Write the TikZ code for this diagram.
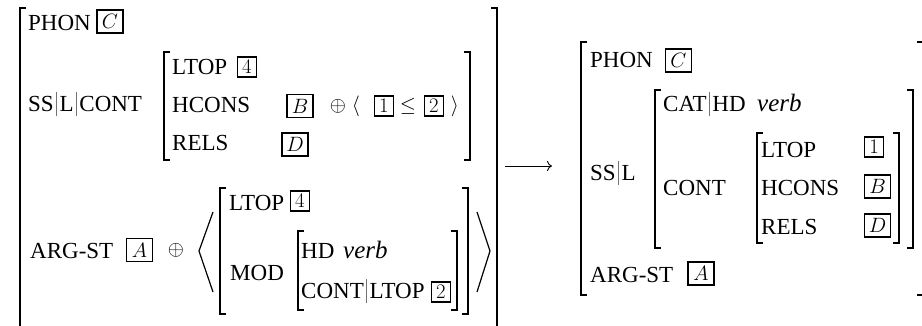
\documentclass[tikz,border=0pt]{standalone}
\usepackage[no-math]{fontspec}
\setmainfont{Liberation Serif}
\usetikzlibrary{arrows.meta}

\newcommand\avmfont{\fontsize{23}{27}\selectfont}
\newcommand\pth{\kern2.5pt{\color{black!55}\rule[-5pt]{0.8pt}{24pt}}\kern2.5pt}
% brackets: x, top, bottom
\newcommand\lbr[3]{\draw[brk] ({#1+6},#2) -- (#1,#2) -- (#1,#3) -- ({#1+6},#3);}
\newcommand\rbr[3]{\draw[brk] ({#1-6},#2) -- (#1,#2) -- (#1,#3) -- ({#1-6},#3);}

\tikzset{
  brk/.style={line width=1.5pt},
  feat/.style={anchor=base west, inner sep=0pt, font=\avmfont},
  val/.style={anchor=base west, inner sep=0pt, font=\fontsize{25}{29}\selectfont\itshape},
  ltag/.style={draw, line width=1.9pt, minimum width=26pt, minimum height=23pt, inner sep=0pt, font=\fontsize{22}{26}\selectfont},
  ntag/.style={ltag, minimum width=19pt, minimum height=20pt, font=\fontsize{21}{25}\selectfont},
  op/.style={inner sep=0pt, font=\fontsize{22}{26}\selectfont},
  angl/.style={line width=1.2pt}
}

\begin{document}
\begin{tikzpicture}[x=1pt,y=-1pt]
  \useasboundingbox (0,0) rectangle (922,325);

  % left avm
  \lbr{20}{8}{340}
  \rbr{497}{8}{340}
  \node[feat] (phonL) at (28,30) {PHON};
  \node[ltag] (tagCL) at (110,21.5) {$C$};
  \node[feat] (sslc) at (28,111) {SS\pth L\pth CONT};
  \lbr{164}{52}{160}
  \rbr{470}{52}{160}
  \node[feat] (ltopL) at (172,74) {LTOP};
  \node[ntag] (tagFourA) at (247,67) {$4$};
  \node[feat] (hconsL) at (172,112) {HCONS};
  \node[ltag] (tagBL) at (300,106) {$B$};
  \node[op] (plusA) at (338,106) {$\oplus$};
  \node[op] (langA) at (356,106) {$\langle$};
  \node[ntag] (tagOneL) at (384,106) {$1$};
  \node[op] (leq) at (408,106) {$\leq$};
  \node[ntag] (tagTwoA) at (434,106) {$2$};
  \node[op] (rangA) at (455,106) {$\rangle$};
  \node[feat] (relsL) at (172,150) {RELS};
  \node[ltag] (tagDL) at (295,144.5) {$D$};

  \node[feat] (argL) at (30,258) {ARG-ST};
  \node[ltag] (tagAL) at (139.5,250) {$A$};
  \node[op] (plusB) at (176,250) {$\oplus$};
  \draw[angl] (213,212) -- (199,251) -- (213,292);
  \draw[angl] (477,212) -- (490,251) -- (477,292);
  \lbr{220}{188}{314}
  \rbr{468}{188}{314}
  \node[feat] (ltopM) at (229,210) {LTOP};
  \node[ntag] (tagFourB) at (300,201) {$4$};
  \node[feat] (mod) at (230,280) {MOD};
  \lbr{298}{231}{310}
  \rbr{457}{231}{310}
  \node[feat] (hdM) at (301,258) {HD};
  \node[val] (verbM) at (343,258) {verb};
  \node[feat] (contM) at (301,298) {CONT\pth LTOP};
  \node[ntag] (tagTwoB) at (441,292) {$2$};

  % arrow
  \coordinate (arrS) at (505,166);
  \coordinate (arrE) at (552,166);
  \draw[line width=0.9pt, -{To[length=5pt,width=10pt]}] (arrS) -- (arrE);

  % right avm
  \lbr{581}{42}{295}
  \rbr{923}{42}{295}
  \node[feat] (phonR) at (590,67) {PHON};
  \node[ltag] (tagCR) at (678.5,60.5) {$C$};
  \node[feat] (ssl) at (590,180) {SS\pth L};
  \lbr{655}{90}{248}
  \rbr{913}{90}{248}
  \node[feat] (cathd) at (663,111) {CAT\pth HD};
  \node[val] (verbR) at (757,111) {verb};
  \node[feat] (contR) at (663,195) {CONT};
  \lbr{757}{133}{243}
  \rbr{899}{133}{243}
  \node[feat] (ltopR) at (761,157) {LTOP};
  \node[ntag] (tagOneR) at (874,147) {$1$};
  \node[feat] (hconsR) at (761,195) {HCONS};
  \node[ltag] (tagBR) at (877.5,186.5) {$B$};
  \node[feat] (relsR) at (761,234) {RELS};
  \node[ltag] (tagDR) at (877.5,225.5) {$D$};
  \node[feat] (argR) at (590,282) {ARG-ST};
  \node[ltag] (tagAR) at (701,273.5) {$A$};
\end{tikzpicture}
\end{document}
